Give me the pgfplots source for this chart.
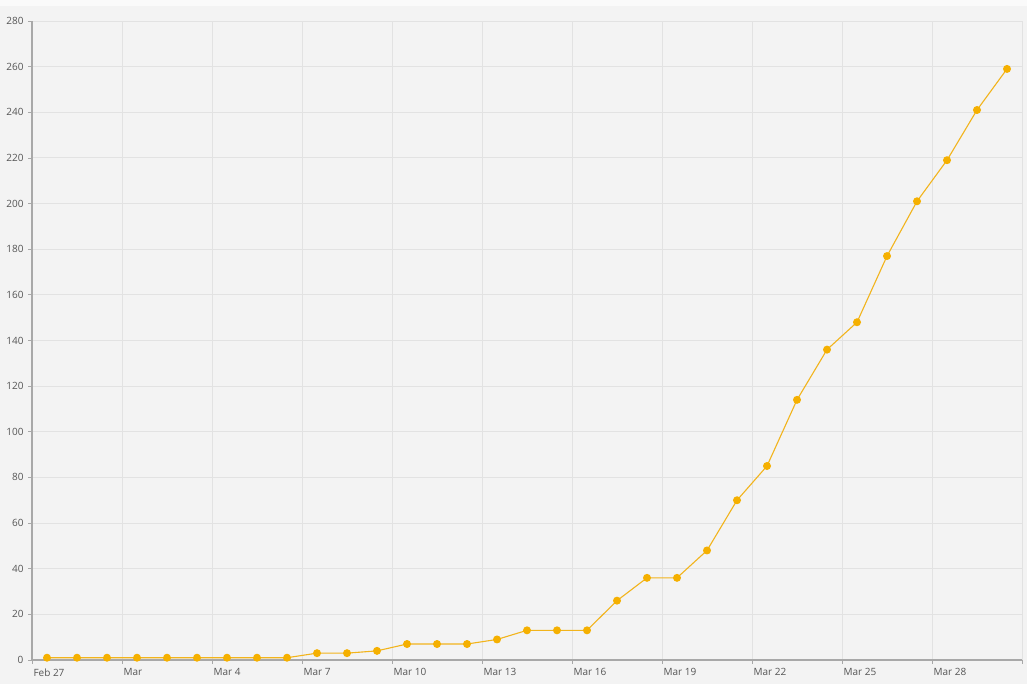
\documentclass[border=0pt]{standalone}
\usepackage{pgfplots}
\pgfplotsset{compat=1.18}
\usepackage{fontspec}
\setmainfont{Open Sans}
\definecolor{bg}{HTML}{F3F3F3}
\definecolor{gridc}{HTML}{E2E2E2}
\definecolor{linec}{HTML}{F2B41C}
\definecolor{markc}{HTML}{F5B000}
\definecolor{labc}{HTML}{555555}
\definecolor{axc}{HTML}{A8A8A8}
\begin{document}
\begin{tikzpicture}[x=1pt,y=1pt]
\fill[bg] (0,0) rectangle (1027,684);
\fill[white!60!bg] (0,678) rectangle (1027,684);
\begin{axis}[
  at={(32pt,24pt)}, anchor=south west,
  scale only axis, width=990pt, height=639pt,
  xmin=0, xmax=33, ymin=0, ymax=280,
  axis background/.style={fill=bg},
  axis lines=left, axis line style={-, draw=axc, line width=1.2pt},
  xtick={0,3,...,30},
  xticklabels={Feb 27,Mar,Mar 4,Mar 7,Mar 10,Mar 13,Mar 16,Mar 19,Mar 22,Mar 25,Mar 28},
  ytick={0,20,...,280},
  extra x ticks={33}, extra x tick labels={},
  extra x tick style={grid=major},
  tick align=outside, major tick length=4pt,
  tick style={draw=axc, line width=0.8pt},
  grid=major, grid style={draw=gridc, line width=0.9pt},
  /pgf/number format/assume math mode=true,
  tick label style={font=\fontsize{10}{12}\selectfont, text=labc},
  xticklabel style={anchor=north west, xshift=-2pt, yshift=-1pt},
  yticklabel style={xshift=-1pt},
  clip=false,
]
\addplot[color=linec, line width=1.1pt, mark=*, mark size=3.4pt, mark options={fill=markc, draw=markc}]
coordinates {
(0.5,1) (1.5,1) (2.5,1) (3.5,1) (4.5,1) (5.5,1) (6.5,1) (7.5,1) (8.5,1)
(9.5,3) (10.5,3) (11.5,4) (12.5,7) (13.5,7) (14.5,7) (15.5,9) (16.5,13)
(17.5,13) (18.5,13) (19.5,26) (20.5,36) (21.5,36) (22.5,48) (23.5,70)
(24.5,85) (25.5,114) (26.5,136) (27.5,148) (28.5,177) (29.5,201)
(30.5,219) (31.5,241) (32.5,259)
};
\end{axis}
\end{tikzpicture}
\end{document}
